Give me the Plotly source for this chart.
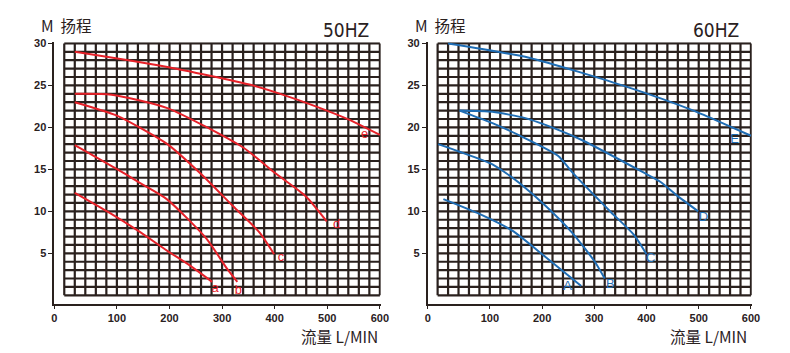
import plotly.graph_objects as go

# ---------------- data ----------------
# 50HZ curves (flow L/MIN, head M)
a50_x = [20, 84, 140, 196, 240, 281]
a50_y = [12.2, 9.9, 7.7, 5.3, 3.5, 1.6]
b50_x = [20, 115, 146, 196, 271, 309, 329]
b50_y = [17.9, 14.5, 13.3, 11.4, 6.7, 3.2, 1.6]
c50_x = [20, 100, 196, 259, 321, 371, 399]
c50_y = [23.0, 21.4, 18.0, 14.5, 10.6, 7.5, 4.9]
d50_x = [20, 90, 196, 340, 402, 459, 499]
d50_y = [24.0, 23.9, 22.3, 17.6, 14.5, 11.8, 8.8]
e50_x = [20, 196, 352, 415, 478, 540, 600]
e50_y = [29.0, 27.2, 25.1, 23.9, 22.5, 20.95, 19.1]
lab50 = ["a", "b", "c", "d", "e"]
lab50_x = [287, 331, 412, 518, 571]
lab50_y = [0.75, 0.6, 4.5, 8.4, 19.1]

# 60HZ curves
A60_x = [11, 80, 143, 206, 275]
A60_y = [11.46, 9.7, 7.7, 4.6, 1.1]
B60_x = [1, 42, 105, 130, 156, 206, 257, 301, 320]
B60_y = [18.0, 17.1, 15.6, 14.6, 13.4, 10.7, 7.5, 4.0, 2.0]
C60_x = [42, 105, 168, 231, 257, 332, 376, 400]
C60_y = [22.0, 20.5, 18.7, 16.6, 14.7, 9.9, 7.2, 4.9]
D60_x = [42, 105, 168, 231, 276, 395, 427, 458, 499]
D60_y = [22.0, 21.85, 21.1, 19.7, 18.5, 14.6, 13.5, 11.9, 10.0]
E60_x = [20, 175, 364, 490, 553, 600]
E60_y = [30.0, 28.3, 24.8, 22.0, 20.3, 19.0]
lab60 = ["A", "B", "C", "D", "E"]
lab60_x = [249, 331, 408, 509, 568.5]
lab60_y = [0.96, 1.3, 4.3, 9.2, 18.5]

x_ticks = [0, 100, 200, 300, 400, 500, 600]
y_ticks = [5, 10, 15, 20, 25, 30]
grid_x_step = 20
grid_y_step = 1
x_max = 600
y_max = 30
axis_origin_x = -19   # where the axes cross (label "0" sits there)
axis_origin_y = -1

RED = "#e62129"
BLUE = "#1f6db4"
DARK = "#2a211e"

fig = go.Figure()


def grid_trace(xa, ya):
    gx, gy = [], []
    for v in range(0, x_max + 1, grid_x_step):
        gx += [v, v, None]
        gy += [0, y_max, None]
    for h in range(0, y_max + 1, grid_y_step):
        gx += [0, x_max, None]
        gy += [h, h, None]
    return go.Scatter(x=gx, y=gy, mode="lines", xaxis=xa, yaxis=ya,
                      line=dict(color=DARK, width=2.2), hoverinfo="skip",
                      showlegend=False)


fig.add_trace(grid_trace("x", "y"))
fig.add_trace(grid_trace("x2", "y2"))

for cx, cy in [(a50_x, a50_y), (b50_x, b50_y), (c50_x, c50_y), (d50_x, d50_y), (e50_x, e50_y)]:
    fig.add_trace(go.Scatter(x=cx, y=cy, mode="lines", xaxis="x", yaxis="y",
                             line=dict(color=RED, width=2, shape="spline", smoothing=0.6),
                             showlegend=False))
for cx, cy in [(A60_x, A60_y), (B60_x, B60_y), (C60_x, C60_y), (D60_x, D60_y), (E60_x, E60_y)]:
    fig.add_trace(go.Scatter(x=cx, y=cy, mode="lines", xaxis="x2", yaxis="y2",
                             line=dict(color=BLUE, width=2, shape="spline", smoothing=0.6),
                             showlegend=False))

fig.add_trace(go.Scatter(x=lab50_x, y=lab50_y, text=lab50, mode="text", xaxis="x", yaxis="y",
                         textfont=dict(color=RED, size=13, family="Liberation Sans, Arial"),
                         cliponaxis=False, showlegend=False))
fig.add_trace(go.Scatter(x=lab60_x, y=lab60_y, text=lab60, mode="text", xaxis="x2", yaxis="y2",
                         textfont=dict(color=BLUE, size=13, family="Liberation Sans, Arial"),
                         cliponaxis=False, showlegend=False))

tick_font = dict(family="Liberation Sans, Arial", size=11, color=DARK, weight="bold")
x_tickvals = [axis_origin_x] + x_ticks[1:]
x_ticktext = [str(v) for v in x_ticks]


def xaxis(domain, anchor):
    return dict(domain=domain, anchor=anchor, range=[axis_origin_x, x_max + 1.5],
                showgrid=False, zeroline=False, showline=True, linecolor=DARK, linewidth=1.6,
                tickmode="array", tickvals=x_tickvals, ticktext=x_ticktext,
                ticks="outside", ticklen=3, tickcolor=DARK, tickwidth=1.3,
                tickfont=tick_font, fixedrange=True)


def yaxis(domain, anchor):
    return dict(domain=domain, anchor=anchor, range=[axis_origin_y, y_max + 0.15],
                showgrid=False, zeroline=False, showline=True, linecolor=DARK, linewidth=1.6,
                tickmode="array", tickvals=y_ticks,
                ticks="outside", ticklen=4, tickcolor=DARK, tickwidth=1.3,
                tickfont=tick_font, fixedrange=True)


W, H = 790, 353
ydom = [1 - 303 / H, 1 - 37.7 / H]
fig.update_layout(
    width=W, height=H, margin=dict(l=0, r=0, t=0, b=0),
    plot_bgcolor="white", paper_bgcolor="white", showlegend=False,
    xaxis=xaxis([52 / W, 383 / W], "y"),
    yaxis=yaxis(ydom, "x"),
    xaxis2=xaxis([430.7 / W, 759.3 / W], "y2"),
    yaxis2=yaxis(ydom, "x2"),
)

ann_font = dict(family="Noto Sans CJK SC, Liberation Sans", size=15.5, color=DARK)
hz_font = dict(family="DejaVu Sans Condensed, Liberation Sans Narrow, Liberation Sans", size=19, color=DARK)
for xm, xhz, hz, xfl in [(37, 373, "50HZ", 382), (416, 748, "60HZ", 757)]:
    fig.add_annotation(x=xm / W, y=1 - 20 / H, xref="paper", yref="paper", text="M  扬程",
                       showarrow=False, xanchor="left", yanchor="middle", font=ann_font)
    fig.add_annotation(x=xhz / W, y=1 - 25 / H, xref="paper", yref="paper", text=hz,
                       showarrow=False, xanchor="right", yanchor="middle", font=hz_font)
    fig.add_annotation(x=xfl / W, y=1 - 336 / H, xref="paper", yref="paper", text="流量 L/MIN",
                       showarrow=False, xanchor="right", yanchor="middle", font=ann_font)

fig.write_html("out.html")
